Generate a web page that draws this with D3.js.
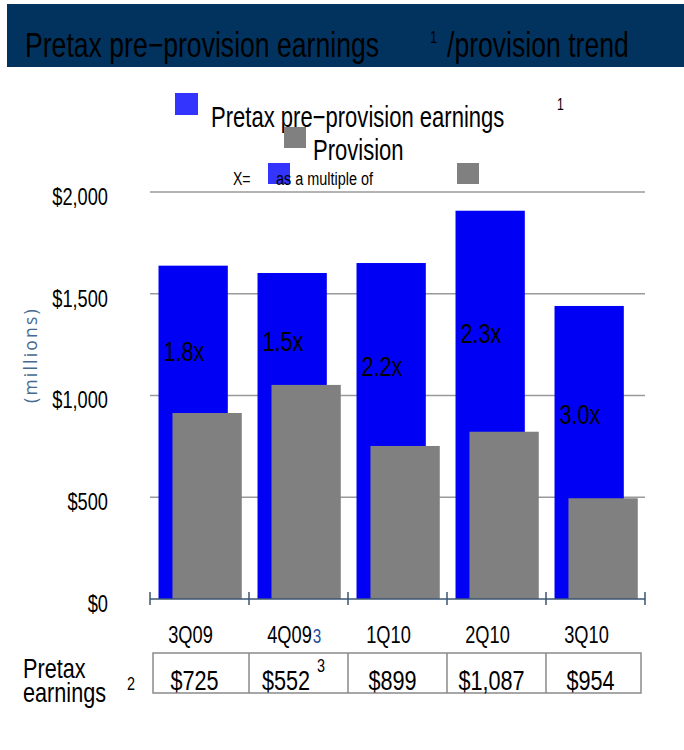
<!DOCTYPE html>
<html>
<head>
<meta charset="utf-8">
<script src="https://cdn.jsdelivr.net/npm/d3@7"></script>
<style>
  html, body { margin: 0; padding: 0; background: #ffffff; }
  svg { display: block; }
  text { font-family: "Liberation Sans", Arial, sans-serif; }
</style>
</head>
<body>
<svg id="chart" width="684" height="750"></svg>
<script>
// ---- data ----
const categories = ["3Q09", "4Q09", "1Q10", "2Q10", "3Q10"];
const categoryNotes = ["", "3", "", "", ""];
const ppeEarnings = [1638, 1602, 1651, 1908, 1440];   // Pretax pre-provision earnings ($M)
const provision = [914, 1052, 752, 822, 495];          // Provision ($M)
const ratioLabels = ["1.8x", "1.5x", "2.2x", "2.3x", "3.0x"];
const pretaxEarnings = ["$725", "$552", "$899", "$1,087", "$954"];
const pretaxNotes = ["", "3", "", "", ""];
const yTicks = [0, 500, 1000, 1500, 2000];

const BLUE = "#0000f5", GRAY = "#808080";
const NARROW = 0.76; // emulate a condensed, tall face (Arial Narrow-like)
const svg = d3.select("#chart");

// condensed text helper: positioned at (x,y)
function T(parent, x, y, str, size, opts = {}) {
  return parent.append("text")
    .attr("transform", `translate(${x},${y}) scale(${NARROW},1)`)
    .attr("font-size", size)
    .attr("fill", opts.fill || "#000")
    .attr("text-anchor", opts.anchor || "start")
    .text(str);
}

// ---- title bar ----
svg.append("rect").attr("x", 7).attr("y", 4).attr("width", 677).attr("height", 63).attr("fill", "#02335f");
T(svg, 25, 57, "Pretax pre\u2212provision earnings", 35);
T(svg, 430, 43, "1", 17);
T(svg, 447, 57, "/provision trend", 35);

// ---- scales ----
const x = d3.scaleBand().domain(categories).range([150, 645]).paddingInner(0).paddingOuter(0);
const bw = x.bandwidth();
const y = d3.scaleLinear().domain([0, 2000]).range([599, 192]);

// ---- gridlines ----
svg.append("g").selectAll("line").data(yTicks.filter(d => d > 0)).join("line")
  .attr("x1", x.range()[0]).attr("x2", x.range()[1])
  .attr("y1", d => y(d)).attr("y2", d => y(d))
  .attr("stroke", "#9a9a9a").attr("stroke-width", 1.5);

// ---- y axis labels ----
const yAxis = svg.append("g").attr("transform", `translate(${x.range()[0]},0)`)
  .call(d3.axisLeft(y).tickValues(yTicks).tickSize(0).tickFormat(d3.format("$,.0f")));
yAxis.select(".domain").remove();
yAxis.selectAll(".tick text")
  .attr("x", 0).attr("dy", "0.52em")
  .attr("transform", `translate(-42,0) scale(${NARROW},1)`)
  .attr("font-family", "Liberation Sans, Arial, sans-serif")
  .attr("font-size", 24).attr("fill", "#000");

// axis title
svg.append("text").attr("transform", "translate(37,355) rotate(-90)")
  .attr("text-anchor", "middle").attr("font-size", 17.5).attr("letter-spacing", 2.2)
  .style("font-family", "'Open Sans', 'DejaVu Sans', sans-serif").attr("font-weight", 400)
  .attr("fill", "#46698f").text("(millions)");

// ---- bars ----
const rows = categories.map((c, i) => ({ c, ppe: ppeEarnings[i], prov: provision[i], ratio: ratioLabels[i] }));
svg.append("g").selectAll("rect").data(rows).join("rect")
  .attr("x", d => x(d.c) + bw * 0.086).attr("width", bw * 0.70)
  .attr("y", d => y(d.ppe)).attr("height", d => y(0) - y(d.ppe)).attr("fill", BLUE);
svg.append("g").selectAll("rect").data(rows).join("rect")
  .attr("x", d => x(d.c) + bw * 0.227).attr("width", bw * 0.70)
  .attr("y", d => y(d.prov)).attr("height", d => y(0) - y(d.prov)).attr("fill", GRAY);

// ratio labels
const rl = svg.append("g");
rows.forEach(d => {
  T(rl, x(d.c) + bw * 0.086 + 5, (y(d.ppe) + y(d.prov)) / 2 + 22, d.ratio, 28.5);
});

// ---- x axis ----
const xa = svg.append("g");
xa.append("line").attr("x1", x.range()[0]).attr("x2", x.range()[1]).attr("y1", y(0)).attr("y2", y(0))
  .attr("stroke", "#3a5472").attr("stroke-width", 1.5);
const edges = categories.map(c => x(c)).concat([x.range()[1]]);
xa.selectAll("line.tick").data(edges).join("line").attr("class", "tick")
  .attr("x1", d => d).attr("x2", d => d).attr("y1", y(0) - 7).attr("y2", y(0) + 6)
  .attr("stroke", "#3a5472").attr("stroke-width", 1.5);

// category labels
categories.forEach((c, i) => {
  const cx = x(c) + bw / 2 - 9;
  const t = T(svg, cx, 643, c, 24, { anchor: "middle" });
  if (categoryNotes[i]) {
    const w = t.node().getComputedTextLength() * NARROW;
    T(svg, cx + w / 2 + 1, 643, categoryNotes[i], 20, { fill: "#1f4e9a" });
  }
});

// ---- pretax earnings table ----
const tTop = 653, tBot = 693, tLeft = x.range()[0] + 3, tRight = x.range()[1] - 4;
svg.append("rect").attr("x", tLeft).attr("y", tTop).attr("width", tRight - tLeft).attr("height", tBot - tTop)
  .attr("fill", "none").attr("stroke", "#8a8a8a").attr("stroke-width", 1.5);
svg.append("g").selectAll("line").data(categories.slice(1)).join("line")
  .attr("x1", d => x(d)).attr("x2", d => x(d)).attr("y1", tTop).attr("y2", tBot)
  .attr("stroke", "#8a8a8a").attr("stroke-width", 1.5);
categories.forEach((c, i) => {
  const t = T(svg, x(c) + bw / 2 - 5, 690, null, 28.5, { anchor: "middle" });
  t.append("tspan").text(pretaxEarnings[i]);
  if (pretaxNotes[i]) {
    t.append("tspan").attr("dx", 9).attr("dy", -18).attr("font-size", 19).text(pretaxNotes[i]);
  }
});
T(svg, 23, 678, "Pretax", 28.5);
T(svg, 23, 702, "earnings", 28.5);
T(svg, 127, 690, "2", 19);

// ---- legend ----
const lg = svg.append("g");
lg.append("rect").attr("x", 175).attr("y", 93).attr("width", 23).attr("height", 22).attr("fill", "#3434ff");
T(lg, 211, 127, "Pretax pre\u2212provision earnings", 29);
T(lg, 557, 110, "1", 16);
lg.append("rect").attr("x", 284).attr("y", 127).attr("width", 22).attr("height", 21).attr("fill", GRAY);
T(lg, 313, 160, "Provision", 29);
lg.append("rect").attr("x", 268).attr("y", 163).attr("width", 22).attr("height", 21).attr("fill", "#3434ff");
lg.append("rect").attr("x", 457).attr("y", 163).attr("width", 22).attr("height", 21).attr("fill", GRAY);
T(lg, 233, 185, "X=", 18.5);
T(lg, 276, 185, "as a multiple of", 19);
</script>
</body>
</html>
